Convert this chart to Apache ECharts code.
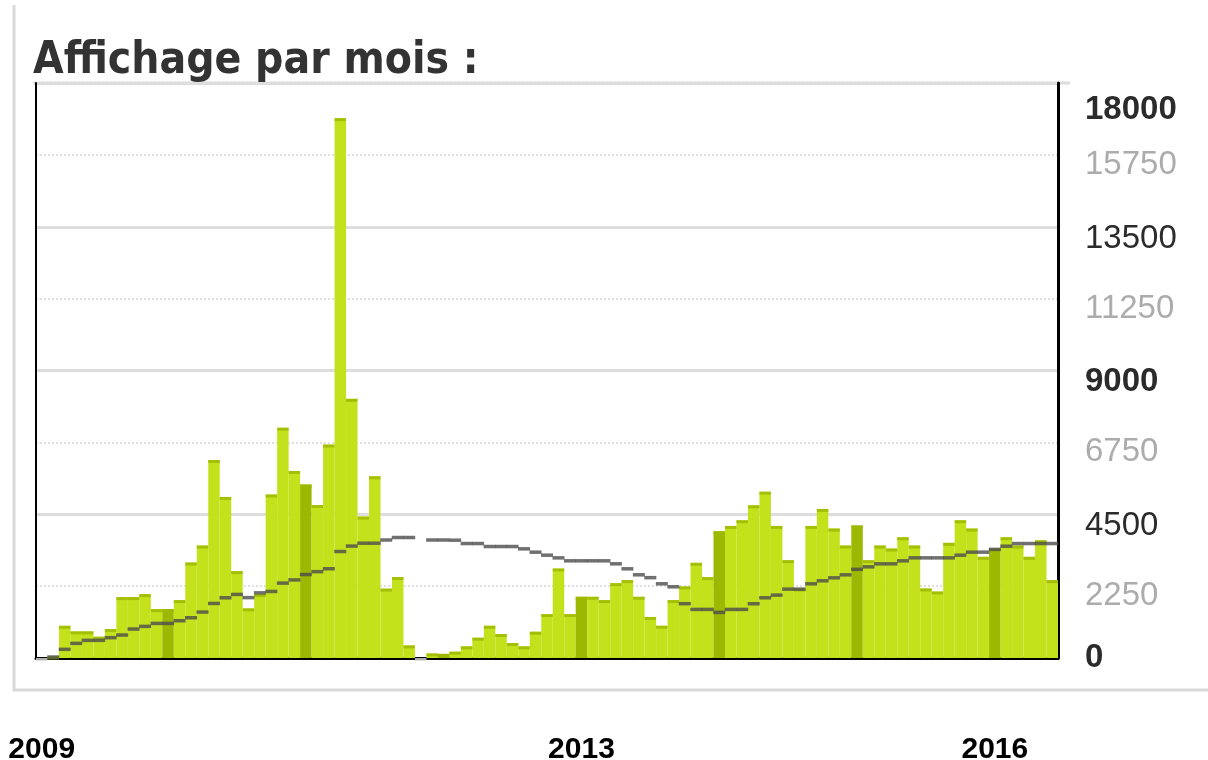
<!DOCTYPE html>
<html>
<head>
<meta charset="utf-8">
<script src="https://cdn.jsdelivr.net/npm/echarts@6/dist/echarts.min.js"></script>
<style>
html,body{margin:0;padding:0;background:#fff;}
#chart{width:1208px;height:760px;}
</style>
</head>
<body>
<div id="chart"></div>
<script>
const titleText = 'Affichage par mois :';

const months = [
 '2009-02','2009-03','2009-04','2009-05','2009-06','2009-07','2009-08','2009-09','2009-10','2009-11','2009-12',
 '2010-01','2010-02','2010-03','2010-04','2010-05','2010-06','2010-07','2010-08','2010-09','2010-10','2010-11','2010-12',
 '2011-01','2011-02','2011-03','2011-04','2011-05','2011-06','2011-07','2011-08','2011-09','2011-10','2011-11','2011-12',
 '2012-01','2012-02','2012-03','2012-04','2012-05','2012-06','2012-07','2012-08','2012-09','2012-10','2012-11','2012-12',
 '2013-01','2013-02','2013-03','2013-04','2013-05','2013-06','2013-07','2013-08','2013-09','2013-10','2013-11','2013-12',
 '2014-01','2014-02','2014-03','2014-04','2014-05','2014-06','2014-07','2014-08','2014-09','2014-10','2014-11','2014-12',
 '2015-01','2015-02','2015-03','2015-04','2015-05','2015-06','2015-07','2015-08','2015-09','2015-10','2015-11','2015-12',
 '2016-01','2016-02','2016-03','2016-04','2016-05','2016-06'
];

const views = [
 0,50,1009,834,834,667,906,1906,1906,2000,
 1531,1531,1813,2990,3521,6198,5042,2720,1553,2003,
 5119,7210,5856,5431,4788,6681,16900,8112,4428,5688,
 2172,2534,394,0,144,130,198,365,635,1010,
 750,469,365,823,1375,2802,1375,1917,1917,1813,
 2344,2438,1917,1285,1010,1813,2240,2979,2531,3969,
 4135,4313,4781,5208,4135,3063,2177,4135,4667,4052,
 3521,4150,3063,3521,3427,3781,3521,2177,2083,3604,
 4313,4052,3167,3427,3781,3521,3167,3688,2438
];

const average = [
 null,30,271,458,552,552,636,719,906,990,
 1083,1083,1167,1260,1438,1708,1885,1990,1890,2040,
 2084,2344,2444,2613,2703,2794,3334,3503,3594,3594,
 3694,3772,3772,null,3694,3694,3688,3583,3583,3490,
 3490,3490,3417,3313,3219,3135,3042,3042,3042,3042,
 2948,2792,2604,2515,2323,2229,1700,1521,1521,1427,
 1521,1521,1698,1885,1969,2156,2156,2323,2417,2510,
 2604,2776,2854,2948,2948,3042,3135,3135,3135,3135,
 3219,3313,3313,3400,3500,3583,3583,3583,3583
];

const yTicks = [0,2250,4500,6750,9000,11250,13500,15750,18000];
const yearTickMonths = ['2009-02','2013-01','2016-01'];

const GREEN = '#c4e21c';
const DARK = '#9db800';
const CAP = '#9cb600';
const isJan = m => m.slice(5) === '01';

const chart = echarts.init(document.getElementById('chart'), null, {renderer:'canvas'});

const labelFont = 'Liberation Sans, Arial, sans-serif';
function yLabel(v){
  let key;
  if (v === 18000) key = 'top';
  else if (v === 0) key = 'zero';
  else if (v % 9000 === 0) key = 'b';
  else if (v % 4500 === 0) key = 'n';
  else key = 'g';
  return '{' + key + '|' + v + '}';
}

const option = {
  animation: false,
  backgroundColor: '#fff',
  grid: {left: 36, right: 150, top: 83, bottom: 102, containLabel: false, outerBoundsMode: 'none'},
  xAxis: [
    {type:'category', data: months, boundaryGap: true,
     axisLine:{show:true, lineStyle:{color:'#000', width:3}}, offset: 3,
     axisTick:{show:false}, axisLabel:{show:false}, splitLine:{show:false}},
    {type:'category', data: months, boundaryGap: true, position:'bottom',
     axisLine:{show:false}, axisTick:{show:false}, splitLine:{show:false},
     axisLabel:{show:true, margin: 77, color:'#000', fontWeight:'bold', fontSize: 30,
       fontFamily: labelFont,
       interval: (i, v) => yearTickMonths.indexOf(v) >= 0,
       formatter: v => v.slice(0,4)}}
  ],
  yAxis: [
    {type:'value', position:'left', min:0, max:18000, interval:4500,
     axisLine:{show:true, lineStyle:{color:'#000', width:2}},
     axisTick:{show:false}, axisLabel:{show:false},
     splitLine:{show:true, lineStyle:{color:'#dcdcdc', width:3, type:'solid'}}},
    {type:'value', position:'right', min:0, max:18000, interval:2250,
     axisLine:{show:true, lineStyle:{color:'#000', width:3}},
     axisTick:{show:false},
     splitLine:{show:true, lineStyle:{color:'#e0e0e0', width:2, type:[2,2]}},
     axisLabel:{show:true, margin: 27, align:'left', verticalAlign:'middle',
       formatter: yLabel,
       rich:{
         top:{fontSize:33, fontFamily:labelFont, fontWeight:'bold', color:'#2b2b2b', padding:[54,0,0,0]},
         zero:{fontSize:33, fontFamily:labelFont, fontWeight:'bold', color:'#2b2b2b', padding:[0,0,0,0]},
         b:{fontSize:33, fontFamily:labelFont, fontWeight:'bold', color:'#2b2b2b', padding:[22,0,0,0]},
         n:{fontSize:33, fontFamily:labelFont, fontWeight:'normal', color:'#2b2b2b', padding:[24,0,0,0]},
         g:{fontSize:33, fontFamily:labelFont, fontWeight:'normal', color:'#acacac', padding:[20,0,0,0]}
       }}}
  ],
  graphic: [
    {type:'line', z:0, shape:{x1:14, y1:5, x2:14, y2:691}, style:{stroke:'#d9d9d9', lineWidth:3}},
    {type:'line', z:0, shape:{x1:13, y1:690, x2:1208, y2:690}, style:{stroke:'#d9d9d9', lineWidth:3}},
    {type:'line', z:0, shape:{x1:33, y1:83, x2:1070, y2:83}, style:{stroke:'#dcdcdc', lineWidth:3}},
    {type:'text', left:33, top:40, z:10,
     style:{text: titleText, fontSize:44, fontWeight:'bold', fontFamily:'DejaVu Sans Condensed, DejaVu Sans, sans-serif', fill:'#333'}}
  ],
  series: [
    {type:'bar', xAxisIndex:0, yAxisIndex:1, barCategoryGap:'0%', barWidth:'100%',
     data: views.map((v,i) => ({value:v, itemStyle:{color: isJan(months[i]) ? DARK : GREEN}})),
     z:2},
    {type:'scatter', xAxisIndex:0, yAxisIndex:1, symbol:'rect', symbolSize:[11.5,3], symbolOffset:[0,1.5],
     data: views.map((v,i) => ({value:v, itemStyle:{color: v === 0 ? '#d8d8d8' : (isJan(months[i]) ? DARK : CAP)}})),
     z:3},
    {type:'scatter', xAxisIndex:0, yAxisIndex:1, symbol:'rect', symbolSize:[12,3.5],
     data: average, itemStyle:{color:'#4c4c4c'}, z:4}
  ]
};
chart.setOption(option);
</script>
</body>
</html>
